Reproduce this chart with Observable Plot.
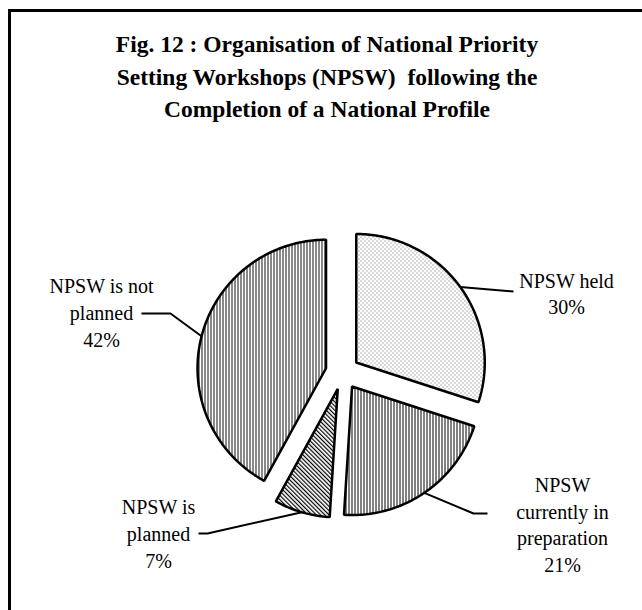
<!DOCTYPE html>
<html><head><meta charset="utf-8">
<script src="https://cdn.jsdelivr.net/npm/d3@7"></script>
<script src="https://cdn.jsdelivr.net/npm/@observablehq/plot@0.6"></script>
<style>
body{margin:0;background:#fff;}
#wrap{position:relative;width:642px;height:610px;overflow:hidden;background:#fff;}
#frame{position:absolute;left:8px;top:9px;width:800px;height:800px;border-left:3px solid #000;border-top:3px solid #000;}
#title{position:absolute;left:9px;width:636px;top:28px;text-align:center;font:bold 23.5px/32.5px "Liberation Serif","Times New Roman",serif;color:#000;}
#chart{position:absolute;left:0;top:0;}
</style></head>
<body><div id="wrap"><div id="frame"></div><div id="chart"></div><div id="title">Fig. 12 : Organisation of National Priority<br>Setting Workshops (NPSW)&nbsp; following the<br>Completion of a National Profile</div></div>
<script>
// ---- data ----
const categories = ["NPSW held", "NPSW currently in preparation", "NPSW is planned", "NPSW is not planned"];
const shares = [30, 21, 7, 42];
const labelNames = ["NPSW held", "NPSW\ncurrently in\npreparation", "NPSW is\nplanned", "NPSW is not\nplanned"];

// ---- layout / style ----
const patternIds = ["p-dots", "p-vA", "p-diag", "p-vB"];
const R = 128.5, EXPLODE = 17;
const CX = 342, CY = 372, W = 642, H = 610;
// leader elbow/end points and label anchors, relative to pie centre (px)
const leaderEnds = [
  [[171, -81]],
  [[131, 141], [145, 141]],
  [[-135, 161], [-144, 161]],
  [[-172, -59], [-201, -59]]
];
const labelAnchors = [[224, -80], [220, 151], [-184, 160], [-241, -61]];

const arcs = d3.pie().sort(null).value(d => d)(shares);
const slices = arcs.map((p, i) => ({
  category: categories[i], share: shares[i],
  a0: p.startAngle, a1: p.endAngle, mid: (p.startAngle + p.endAngle) / 2
}));

const outline = [];
const leaders = [];
const labels = [];
slices.forEach((s, i) => {
  const ox = Math.sin(s.mid) * EXPLODE, oy = -Math.cos(s.mid) * EXPLODE;
  outline.push({category: s.category, x: ox, y: oy});
  const n = Math.max(8, Math.ceil((s.a1 - s.a0) / (Math.PI / 180)));
  for (let k = 0; k <= n; k++) {
    const a = s.a0 + (s.a1 - s.a0) * k / n;
    outline.push({category: s.category, x: ox + R * Math.sin(a), y: oy - R * Math.cos(a)});
  }
  leaders.push({category: s.category, x: ox + R * Math.sin(s.mid), y: oy - R * Math.cos(s.mid)});
  leaderEnds[i].forEach(([x, y]) => leaders.push({category: s.category, x, y}));
  labels.push({category: s.category, x: labelAnchors[i][0], y: labelAnchors[i][1], text: labelNames[i] + "\n" + s.share + "%"});
});

const svg = Plot.plot({
  width: W, height: H, margin: 0,
  x: {domain: [-CX, W - CX], range: [0, W], axis: null},
  y: {domain: [-CY, H - CY], range: [0, H], axis: null},
  style: {background: "transparent", overflow: "visible"},
  marks: [
    ...slices.map((s, i) => Plot.line(outline.filter(d => d.category === s.category), {
      x: "x", y: "y", curve: "linear-closed",
      fill: `url(#${patternIds[i]})`, stroke: "#000", strokeWidth: 2.5, strokeLinejoin: "miter"
    })),
    Plot.line(leaders, {x: "x", y: "y", z: "category", stroke: "#000", strokeWidth: 2, strokeLinejoin: "miter", strokeLinecap: "butt"}),
    Plot.text(labels, {x: "x", y: "y", text: "text", fontSize: 20, lineHeight: 1.33, fontFamily: "Liberation Serif", fill: "#000", lineAnchor: "middle", textAnchor: "middle"})
  ]
});

d3.select(svg).insert("defs", ":first-child").html(`
<pattern id="p-dots" width="4" height="4" patternUnits="userSpaceOnUse"><rect width="4" height="4" fill="#fff"/><rect x="0" y="0" width="1" height="1" fill="#666"/><rect x="2" y="2" width="1" height="1" fill="#666"/></pattern>
<pattern id="p-vA" width="3" height="3" patternUnits="userSpaceOnUse"><rect width="3" height="3" fill="#fff"/><rect x="0" y="0" width="1" height="3" fill="#000"/></pattern>
<pattern id="p-vB" width="3" height="3" patternUnits="userSpaceOnUse"><rect width="3" height="3" fill="#fff"/><rect x="0" y="0" width="1" height="3" fill="#111"/></pattern>
<pattern id="p-diag" width="3" height="3" patternUnits="userSpaceOnUse" patternTransform="rotate(-45)"><rect width="3" height="3" fill="#fff"/><rect x="0" y="0" width="1.2" height="3" fill="#000"/></pattern>
`);

document.getElementById("chart").appendChild(svg);
</script>
</body></html>
